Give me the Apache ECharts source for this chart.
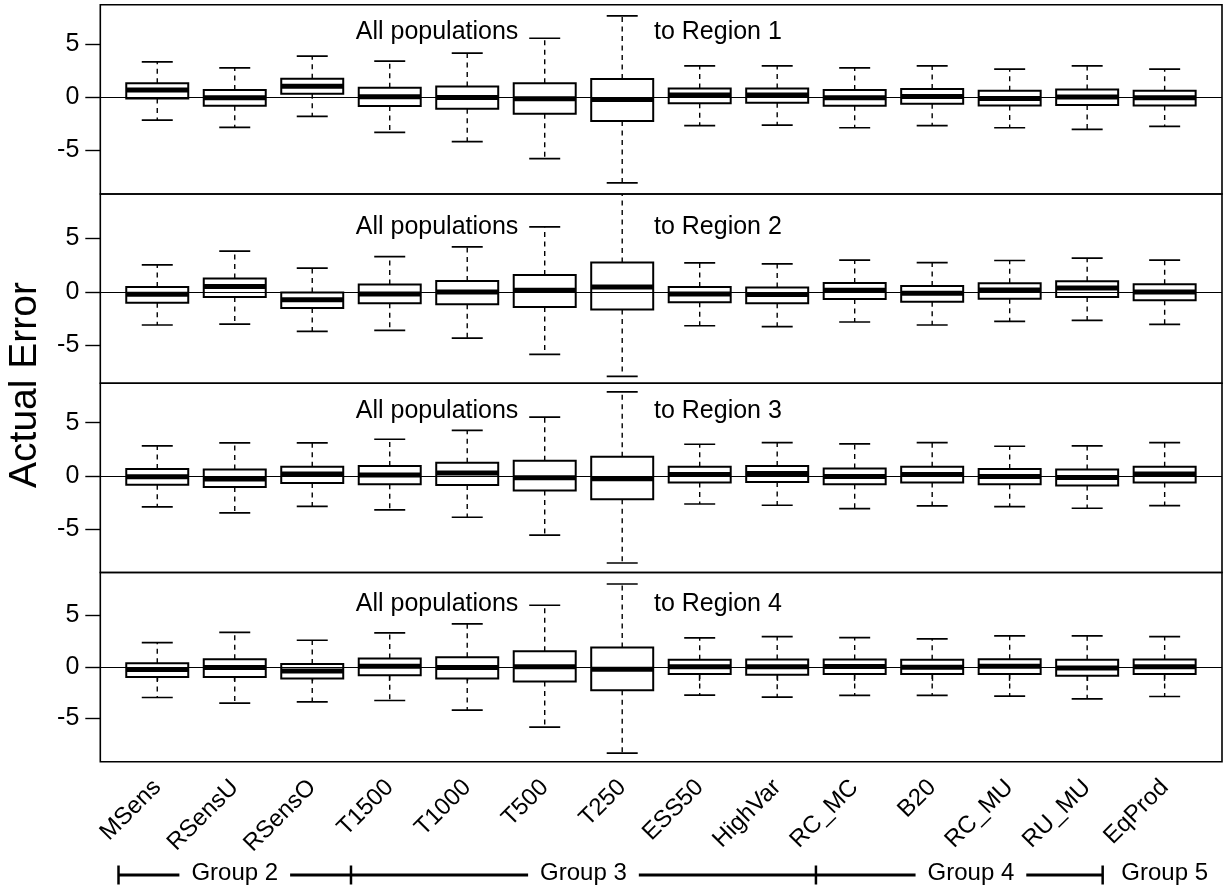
<!DOCTYPE html>
<html><head><meta charset="utf-8">
<script src="https://cdn.jsdelivr.net/npm/echarts@6/dist/echarts.min.js"></script>
<style>html,body{margin:0;padding:0;background:#fff}#c{width:1225px;height:892px}</style>
</head><body><div id="c"></div>
<script>
const categories = ['MSens','RSensU','RSensO','T1500','T1000','T500','T250','ESS50','HighVar','RC_MC','B20','RC_MU','RU_MU','EqProd'];
// each entry: [lower whisker, Q1, median, Q3, upper whisker]
const region1 = [
  [-2.16,-0.13,0.66,1.31,3.31],[-2.84,-0.81,-0.06,0.66,2.75],[-1.81,0.31,1.03,1.72,3.84],
  [-3.31,-0.84,0.03,0.88,3.38],[-4.19,-1.09,-0.03,1.00,4.13],[-5.78,-1.56,-0.16,1.31,5.53],
  [-8.06,-2.25,-0.22,1.69,7.63],[-2.69,-0.59,0.19,0.81,2.94],[-2.63,-0.53,0.19,0.81,2.94],
  [-2.88,-0.81,-0.06,0.66,2.75],[-2.69,-0.63,0.06,0.75,2.94],[-2.88,-0.78,-0.13,0.59,2.63],
  [-3.03,-0.75,0.00,0.72,2.94],[-2.75,-0.78,-0.06,0.59,2.63]
];
const region2 = [
  [-3.09,-1.00,-0.22,0.47,2.53],[-3.00,-0.47,0.50,1.25,3.81],[-3.69,-1.50,-0.72,-0.06,2.22],
  [-3.59,-1.06,-0.19,0.69,3.31],[-4.31,-1.16,0.00,1.03,4.22],[-5.84,-1.41,0.16,1.59,6.09],
  [-7.90,-1.63,0.47,2.75,9.60],[-3.16,-0.97,-0.19,0.47,2.72],[-3.25,-1.06,-0.25,0.41,2.63],
  [-2.81,-0.66,0.16,0.84,2.97],[-3.09,-0.91,-0.13,0.56,2.75],[-2.75,-0.63,0.19,0.81,2.94],
  [-2.66,-0.47,0.38,1.00,3.16],[-3.03,-0.78,0.00,0.72,2.97]
];
const region3 = [
  [-2.94,-0.84,-0.09,0.63,2.81],[-3.50,-1.06,-0.31,0.59,3.09],[-2.88,-0.69,0.16,0.84,3.09],
  [-3.22,-0.81,0.06,0.91,3.44],[-3.91,-0.88,0.25,1.22,4.28],[-5.59,-1.38,-0.19,1.41,5.53],
  [-8.22,-2.22,-0.28,1.78,7.91],[-2.66,-0.63,0.13,0.84,2.97],[-2.78,-0.59,0.22,0.91,3.13],
  [-3.09,-0.81,-0.06,0.69,3.00],[-2.84,-0.63,0.13,0.84,3.13],[-2.91,-0.81,-0.06,0.63,2.78],
  [-3.06,-0.91,-0.16,0.59,2.81],[-2.81,-0.63,0.16,0.84,3.13]
];
const region4 = [
  [-2.97,-0.97,-0.26,0.35,2.35],[-3.52,-0.97,-0.06,0.74,3.35],[-3.39,-1.13,-0.39,0.29,2.58],
  [-3.26,-0.81,0.06,0.81,3.29],[-4.19,-1.13,-0.06,0.94,4.16],[-5.84,-1.42,0.00,1.52,5.97],
  [-8.35,-2.26,-0.23,1.87,8.03],[-2.74,-0.68,0.00,0.68,2.81],[-2.94,-0.77,0.00,0.71,2.94],
  [-2.77,-0.68,0.03,0.71,2.84],[-2.77,-0.68,-0.03,0.68,2.71],[-2.84,-0.68,0.06,0.74,3.00],
  [-3.10,-0.87,-0.10,0.68,3.00],[-2.87,-0.68,0.00,0.71,2.94]
];
const regions = [region1, region2, region3, region4];
const panelLabels = ['to Region 1','to Region 2','to Region 3','to Region 4'];
const leftLabel = 'All populations';
const yTicks = [-5, 0, 5];
const yRanges = [[-9.10, 8.68], [-8.53, 9.16], [-9.11, 8.72], [-9.19, 9.15]];
const xRange = [0.265, 14.74];
const groupNames = ['Group 2','Group 3','Group 4','Group 5'];
const groupCenters = [2, 6.5, 11.5, 14];
const groupBounds = [0.5, 3.5, 9.5, 13.2];

const FONT = "'Liberation Sans', Arial, Helvetica, sans-serif";
const PANEL_TOP = 4.7, PANEL_H = 189.25;

function renderBox(params, api) {
  const x = api.value(0);
  const pLo = api.coord([x, api.value(1)]);
  const pQ1 = api.coord([x, api.value(2)]);
  const pMed = api.coord([x, api.value(3)]);
  const pQ3 = api.coord([x, api.value(4)]);
  const pHi = api.coord([x, api.value(5)]);
  const unit = api.size([1, 0])[0];
  const bw = unit * 0.4, cw = unit * 0.2, cx = pMed[0];
  const dash = {stroke: '#000', lineWidth: 1.4, lineDash: [5, 4.5]};
  const solid = {stroke: '#000', lineWidth: 1.7};
  return {type: 'group', children: [
    {type: 'line', shape: {x1: cx, y1: pQ3[1], x2: cx, y2: pHi[1]}, style: dash},
    {type: 'line', shape: {x1: cx, y1: pQ1[1], x2: cx, y2: pLo[1]}, style: dash},
    {type: 'line', shape: {x1: cx - cw, y1: pHi[1], x2: cx + cw, y2: pHi[1]}, style: solid},
    {type: 'line', shape: {x1: cx - cw, y1: pLo[1], x2: cx + cw, y2: pLo[1]}, style: solid},
    {type: 'rect', shape: {x: cx - bw, y: pQ3[1], width: 2 * bw, height: pQ1[1] - pQ3[1]},
      style: {fill: '#fff', stroke: '#000', lineWidth: 2}},
    {type: 'line', shape: {x1: cx - bw, y1: pMed[1], x2: cx + bw, y2: pMed[1]},
      style: {stroke: '#000', lineWidth: 5}}
  ]};
}

const grids = [], xAxes = [], yAxes = [], series = [];
const tickVals = categories.map((c, i) => i + 1);
regions.forEach((reg, i) => {
  const last = i === regions.length - 1;
  grids.push({left: 100.3, right: 3, top: PANEL_TOP + i * PANEL_H, height: PANEL_H,
    show: true, borderColor: '#000', borderWidth: 1.6, backgroundColor: 'transparent'});
  xAxes.push({type: 'value', gridIndex: i, min: xRange[0], max: xRange[1],
    axisLine: {show: false}, splitLine: {show: false},
    axisTick: {show: last, customValues: tickVals, length: 14, lineStyle: {color: '#000', width: 1.4}},
    axisLabel: {show: last, customValues: tickVals, rotate: 45, margin: 22,
      formatter: v => categories[Math.round(v) - 1] || '',
      fontSize: 24, color: '#000', fontFamily: FONT}
  });
  yAxes.push({type: 'value', gridIndex: i, min: yRanges[i][0], max: yRanges[i][1],
    axisLine: {show: false}, splitLine: {show: false},
    axisTick: {show: true, customValues: yTicks, length: 15, lineStyle: {color: '#000', width: 1.4}},
    axisLabel: {customValues: yTicks, fontSize: 25, color: '#000', fontFamily: FONT, margin: 21}
  });
  series.push({type: 'line', xAxisIndex: i, yAxisIndex: i, data: [], z: 1, silent: true,
    markLine: {silent: true, symbol: 'none', animation: false, label: {show: false},
      lineStyle: {color: '#000', width: 1.2, type: 'solid'}, data: [{yAxis: 0}]}});
  series.push({type: 'custom', xAxisIndex: i, yAxisIndex: i, z: 3, clip: true, silent: true,
    renderItem: renderBox, encode: {x: 0, y: [1, 2, 3, 4, 5]},
    data: reg.map((d, k) => [k + 1].concat(d))});
});

const chart = echarts.init(document.getElementById('c'), null, {renderer: 'canvas'});
chart.setOption({animation: false, backgroundColor: '#fff', grid: grids, xAxis: xAxes, yAxis: yAxes, series: series});

const graphics = [];
graphics.push({type: 'text', x: 25, y: 385, rotation: Math.PI / 2,
  style: {text: 'Actual Error', font: '39px ' + FONT, fill: '#000', textAlign: 'center', textVerticalAlign: 'middle'}});
regions.forEach((reg, i) => {
  const a = chart.convertToPixel({gridIndex: i}, [5.66, 6.1]);
  const b = chart.convertToPixel({gridIndex: i}, [7.41, 6.1]);
  graphics.push({type: 'text', x: a[0], y: a[1], z: 10,
    style: {text: leftLabel, font: '25px ' + FONT, fill: '#000', textAlign: 'right', textVerticalAlign: 'middle'}});
  graphics.push({type: 'text', x: b[0], y: b[1], z: 10,
    style: {text: panelLabels[i], font: '25px ' + FONT, fill: '#000', textAlign: 'left', textVerticalAlign: 'middle'}});
});
const GY = 875;
const px = v => chart.convertToPixel({xAxisIndex: 3}, v);
graphics.push({type: 'line', shape: {x1: px(groupBounds[0]), y1: GY, x2: px(groupBounds[groupBounds.length - 1]), y2: GY},
  style: {stroke: '#000', lineWidth: 3}});
groupBounds.forEach(v => {
  graphics.push({type: 'line', shape: {x1: px(v), y1: GY - 9.5, x2: px(v), y2: GY + 9.5}, style: {stroke: '#000', lineWidth: 2.5}});
});
groupNames.forEach((g, i) => {
  graphics.push({type: 'text', x: px(groupCenters[i]), y: GY - 2, z: 20,
    style: {text: g, font: '24px ' + FONT, fill: '#000', textAlign: 'center', textVerticalAlign: 'middle',
      backgroundColor: '#fff', padding: [0, 12]}});
});
chart.setOption({graphic: graphics});
</script></body></html>
